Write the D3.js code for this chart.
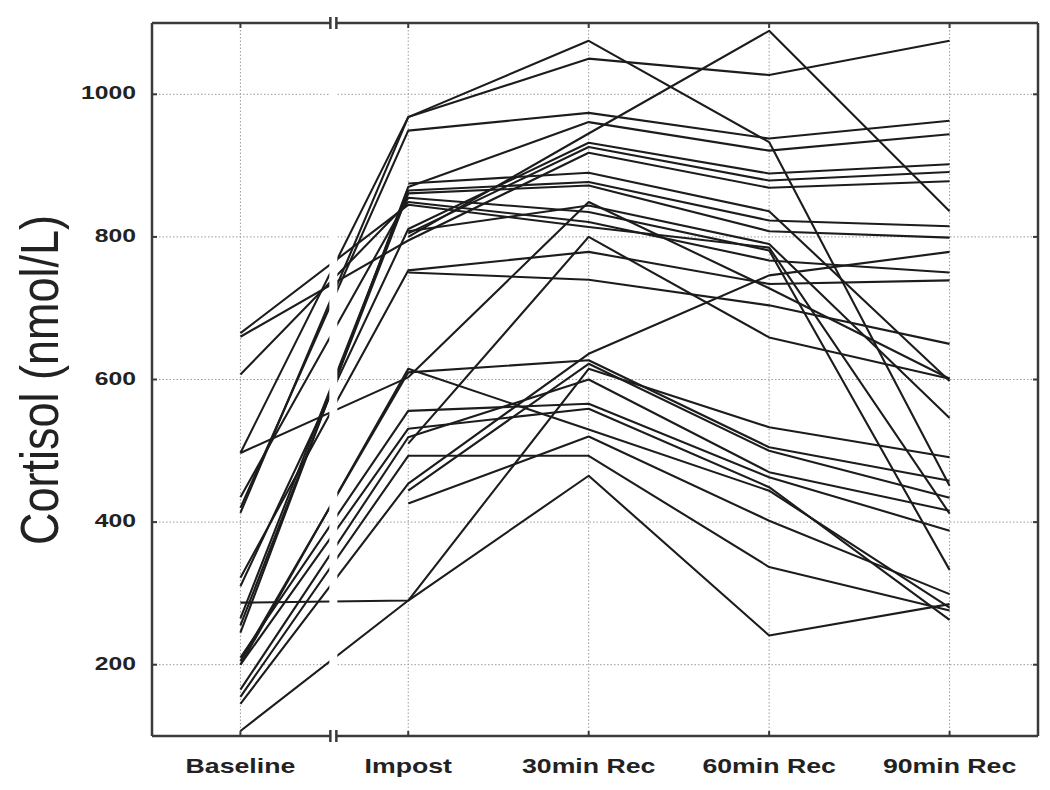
<html>
<head>
<script src="https://d3js.org/d3.v7.min.js"></script>
<style>
  body { margin: 0; background: #fff; }
  text { font-family: "Liberation Sans", Arial, sans-serif; fill: #222; }
</style>
</head>
<body>
<svg id="chart" width="1050" height="790"></svg>
<script>
// time points and y ticks
const categories = ["Baseline", "Impost", "30min Rec", "60min Rec", "90min Rec"];
const yTicks = [200, 400, 600, 800, 1000];

// one entry per subject (30), null = not measured
const baseline = [497, 413, 420, 245, null, 310, null, 660, 322, null,
                  null, 265, 255, 607, 435, 665, null, 497, null, 200,
                  205, 210, 200, 165, 155, 145, null, null, 287, 107];
const impost   = [968, 968, 949, 870, 800, 811, 805, 795, 753, 750,
                  875, 865, 861, 849, 855, 845, 808, 603, 510, 615,
                  610, 556, 531, 519, 493, 454, 444, 426, 290, 290];
const rec30    = [1075, 1050, 974, 961, 945, 932, 926, 918, 779, 740,
                  890, 877, 872, 821, 835, 814, 844, 849, 800, 530,
                  627, 566, 559, 600, 493, 636, 622, 520, 465, 615];
const rec60    = [933, 1027, 938, 921, 1089, 889, 879, 869, 734, 704,
                  836, 823, 808, 767, 781, 785, 790, 728, 659, 444,
                  505, 463, 449, 470, 337, 746, 500, 402, 241, 533];
const rec90    = [451, 1075, 963, 944, 836, 902, 891, 878, 739, 650,
                  598, 815, 799, 750, 333, 412, 546, 601, 601, 280,
                  458, 388, 263, 416, 276, 779, 434, 299, 285, 491];

const series = [baseline, impost, rec30, rec60, rec90];
const subjects = d3.range(baseline.length).map(s =>
    series.map((col, i) => ({ i: i, v: col[s] })));

const svg = d3.select("#chart");
const pLeft = 152, pRight = 1038, pTop = 23, pBottom = 736;

const y = d3.scaleLinear().domain([100, 1100]).range([pBottom, pTop]);
const x = d3.scaleLinear().domain([-0.42, 4.49]).range([pLeft, pRight]);
// baseline sits a bit closer because of the axis break
const slot = i => (i === 0 ? 0.07 : i);
const breakX = x(0.585);

// grid
const grid = svg.append("g").attr("stroke", "#9a9a9a").attr("stroke-width", 1)
    .attr("stroke-dasharray", "1.5,2");
grid.selectAll(".hg").data(yTicks).join("line")
    .attr("x1", pLeft).attr("x2", pRight)
    .attr("y1", d => y(d)).attr("y2", d => y(d));
grid.selectAll(".vg").data(categories).join("line")
    .attr("x1", (d, i) => x(slot(i))).attr("x2", (d, i) => x(slot(i)))
    .attr("y1", pTop).attr("y2", pBottom);

// subject lines
const line = d3.line()
    .defined(d => d.v != null)
    .x(d => x(slot(d.i)))
    .y(d => y(d.v));

svg.append("g").selectAll("path").data(subjects).join("path")
    .attr("d", line)
    .attr("fill", "none")
    .attr("stroke", "#1c1c1c")
    .attr("stroke-width", 2.1)
    .attr("stroke-linejoin", "round");

// gap for the axis break
svg.append("rect")
    .attr("x", breakX - 4).attr("y", pTop - 8)
    .attr("width", 8).attr("height", pBottom - pTop + 16)
    .attr("fill", "#fff");

// frame
const frame = svg.append("g").attr("stroke", "#3a3a3a").attr("stroke-width", 2.5);
frame.append("line").attr("x1", pLeft).attr("x2", pLeft).attr("y1", pTop).attr("y2", pBottom);
frame.append("line").attr("x1", pRight).attr("x2", pRight).attr("y1", pTop).attr("y2", pBottom);
[pTop, pBottom].forEach(yy => {
    frame.append("line").attr("x1", pLeft).attr("x2", breakX - 3).attr("y1", yy).attr("y2", yy);
    frame.append("line").attr("x1", breakX + 3).attr("x2", pRight).attr("y1", yy).attr("y2", yy);
    frame.append("line").attr("x1", breakX - 3).attr("x2", breakX - 3).attr("y1", yy - 6).attr("y2", yy + 6);
    frame.append("line").attr("x1", breakX + 3).attr("x2", breakX + 3).attr("y1", yy - 6).attr("y2", yy + 6);
});

// ticks
const ticks = svg.append("g").attr("stroke", "#3a3a3a").attr("stroke-width", 2);
categories.forEach((c, i) => {
    const cx = x(slot(i));
    ticks.append("line").attr("x1", cx).attr("x2", cx).attr("y1", pTop).attr("y2", pTop + 5);
    ticks.append("line").attr("x1", cx).attr("x2", cx).attr("y1", pBottom).attr("y2", pBottom - 5);
});
yTicks.forEach(t => {
    ticks.append("line").attr("x1", pLeft).attr("x2", pLeft + 5).attr("y1", y(t)).attr("y2", y(t));
    ticks.append("line").attr("x1", pRight).attr("x2", pRight - 5).attr("y1", y(t)).attr("y2", y(t));
});

// tick labels
svg.append("g").selectAll("text").data(yTicks).join("text")
    .attr("transform", d => "translate(136," + y(d) + ") scale(1.3,1)")
    .attr("text-anchor", "end")
    .attr("dominant-baseline", "middle")
    .style("font-size", "19px")
    .style("font-weight", "bold")
    .text(d => d);

svg.append("g").selectAll("text").data(categories).join("text")
    .attr("transform", (d, i) => "translate(" + x(slot(i)) + ",773) scale(1.27,1)")
    .attr("text-anchor", "middle")
    .style("font-size", "21px")
    .style("font-weight", "bold")
    .text(d => d);

// y title
svg.append("text")
    .attr("transform", "translate(58,380) scale(1.2,1) rotate(-90)")
    .attr("text-anchor", "middle")
    .style("font-size", "45px")
    .text("Cortisol (nmol/L)");
</script>
</body>
</html>
